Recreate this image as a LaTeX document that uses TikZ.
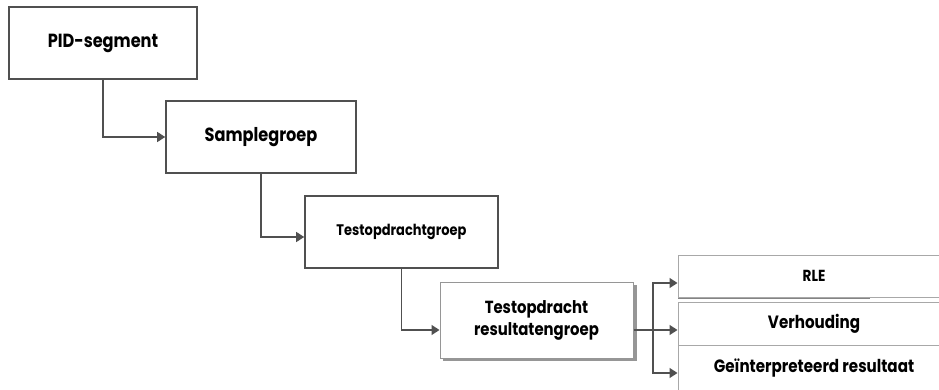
\documentclass[tikz,border=0pt]{standalone}
\usepackage{fontspec}
\setmainfont{Poppins}[FakeStretch=0.85]
\usetikzlibrary{arrows.meta}
\definecolor{edge}{HTML}{505050}
\definecolor{lightedge}{HTML}{A8A8A8}
\begin{document}
\begin{tikzpicture}[x=1pt,y=-1pt,
  box/.style={draw=edge,line width=1.6pt,fill=white,inner sep=0pt,align=center,font=\bfseries\fontsize{19}{22}\selectfont},
  smallbox/.style={box,font=\bfseries\fontsize{15.3}{18}\selectfont},
  fieldbox/.style={draw=lightedge,line width=1pt,fill=white,inner sep=0pt,font=\bfseries\fontsize{17.8}{20}\selectfont},
  link/.style={draw=edge,line width=1.3pt,-{Triangle[length=8pt,width=10pt]}},
  shadowline/.style={draw=edge!70,line width=1.6pt}]
\useasboundingbox (0,0) rectangle (939,390);
\begin{scope}
\clip (0,0) rectangle (939,390);
% hierarchy of segments
\node[box,minimum width=188pt,minimum height=72pt] (pid) at (103,43) {PID-segment};
\node[box,minimum width=190pt,minimum height=72pt] (sample) at (261,137) {Samplegroep};
\node[smallbox,minimum width=193pt,minimum height=72pt] (test) at (401.5,232) {Testopdrachtgroep};
% result group with its drop shadow
\fill[edge!60] (443,285) rectangle (636.5,361);
\node[box,draw=edge!60,line width=1pt,minimum width=193pt,minimum height=76pt,font=\bfseries\fontsize{17.5}{22}\selectfont] (res) at (536.5,320) {Testopdracht\\resultatengroep};
% result fields
\draw[shadowline] (678,298) -- (870,298);
\node[fieldbox,minimum width=272pt,minimum height=42pt,font=\bfseries\fontsize{16}{19}\selectfont] (rle) at (814,276) {RLE};
\node[fieldbox,minimum width=272pt,minimum height=43pt] (verh) at (814,323.5) {Verhouding};
\node[fieldbox,minimum width=272pt,minimum height=46pt] (geint) at (814,368) {Geïnterpreteerd resultaat};
% connectors
\draw[link] (pid.south) |- (sample.west);
\draw[link] (sample.south) |- ([yshift=-5pt]test.west);
\draw[link] (test.south) |- ([yshift=-10pt]res.west);
\coordinate (fork) at (653,330);
\draw[draw=edge,line width=1.3pt] ([yshift=-10pt]res.east) -- (fork);
\draw[link] (fork) |- ([yshift=-7pt]rle.west);
\draw[link] (fork) -- ([yshift=-6.5pt]verh.west);
\draw[link] (fork) |- ([yshift=-5pt]geint.west);
\end{scope}
\end{tikzpicture}
\end{document}
